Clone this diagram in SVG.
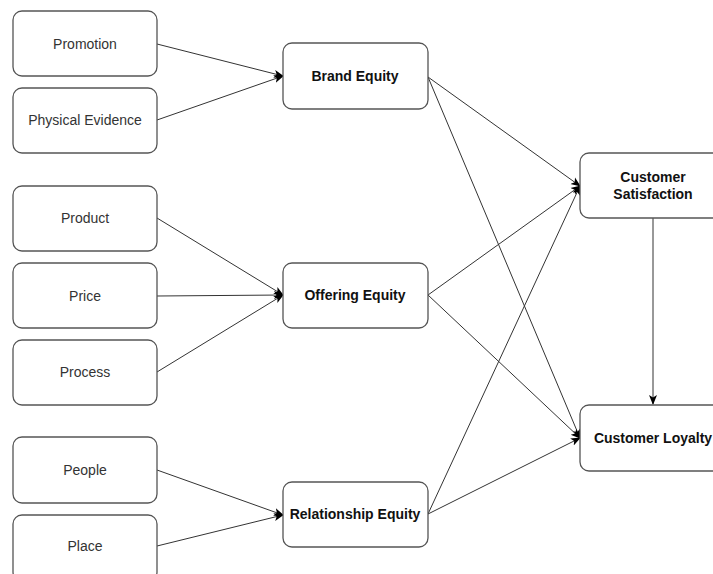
<svg xmlns="http://www.w3.org/2000/svg" width="713" height="574" viewBox="0 0 713 574">
<style>
.box{fill:#fff;stroke:#555;stroke-width:1.3}
.t{font-family:"Liberation Sans",Arial,sans-serif;font-size:14px;fill:#333;text-anchor:middle;dominant-baseline:central}
.b{font-weight:bold;fill:#111}
.e{stroke:#333;stroke-width:1;fill:none;marker-end:url(#ah)}
</style>
<defs>
<marker id="ah" viewBox="0 0 10 10" refX="9" refY="5" markerWidth="10" markerHeight="10" markerUnits="userSpaceOnUse" orient="auto">
<path d="M0,1 L10,5 L0,9 L2.5,5 Z" fill="#000"/>
</marker>
</defs>
<rect width="713" height="574" fill="#fff"/>
<g id="connectors">
<line class="e" x1="157" y1="44" x2="283" y2="76"/>
<line class="e" x1="157" y1="120" x2="283" y2="76"/>
<line class="e" x1="157" y1="218" x2="283" y2="295"/>
<line class="e" x1="157" y1="296" x2="283" y2="295"/>
<line class="e" x1="157" y1="372" x2="283" y2="295"/>
<line class="e" x1="157" y1="470" x2="283" y2="515"/>
<line class="e" x1="157" y1="546" x2="283" y2="515"/>
<line class="e" x1="428" y1="77" x2="580" y2="186"/>
<line class="e" x1="428" y1="77" x2="580" y2="438"/>
<line class="e" x1="428" y1="295" x2="580" y2="186"/>
<line class="e" x1="428" y1="295" x2="580" y2="438"/>
<line class="e" x1="428" y1="514" x2="580" y2="186"/>
<line class="e" x1="428" y1="514" x2="580" y2="438"/>
<line class="e" x1="653" y1="218" x2="653" y2="404"/>
</g>
<g id="promotion"><rect class="box" x="13" y="11" width="144" height="65" rx="9"/><text class="t" x="85" y="44">Promotion</text></g>
<g id="physical-evidence"><rect class="box" x="13" y="88" width="144" height="65" rx="9"/><text class="t" x="85" y="120">Physical Evidence</text></g>
<g id="product"><rect class="box" x="13" y="186" width="144" height="65" rx="9"/><text class="t" x="85" y="218">Product</text></g>
<g id="price"><rect class="box" x="13" y="263" width="144" height="65" rx="9"/><text class="t" x="85" y="296">Price</text></g>
<g id="process"><rect class="box" x="13" y="340" width="144" height="65" rx="9"/><text class="t" x="85" y="372">Process</text></g>
<g id="people"><rect class="box" x="13" y="437" width="144" height="66" rx="9"/><text class="t" x="85" y="470">People</text></g>
<g id="place"><rect class="box" x="13" y="515" width="144" height="66" rx="9"/><text class="t" x="85" y="546">Place</text></g>
<g id="brand-equity"><rect class="box" x="283" y="43" width="145" height="66" rx="9"/><text class="t b" x="355" y="76">Brand Equity</text></g>
<g id="offering-equity"><rect class="box" x="283" y="263" width="145" height="65" rx="9"/><text class="t b" x="355" y="295">Offering Equity</text></g>
<g id="relationship-equity"><rect class="box" x="283" y="482" width="145" height="65" rx="9"/><text class="t b" x="355" y="514">Relationship Equity</text></g>
<g id="customer-satisfaction"><rect class="box" x="580" y="153" width="145" height="65" rx="9"/><text class="t b" x="653" y="177">Customer</text><text class="t b" x="653" y="194">Satisfaction</text></g>
<g id="customer-loyalty"><rect class="box" x="580" y="405" width="145" height="66" rx="9"/><text class="t b" x="653" y="438">Customer Loyalty</text></g>
</svg>
